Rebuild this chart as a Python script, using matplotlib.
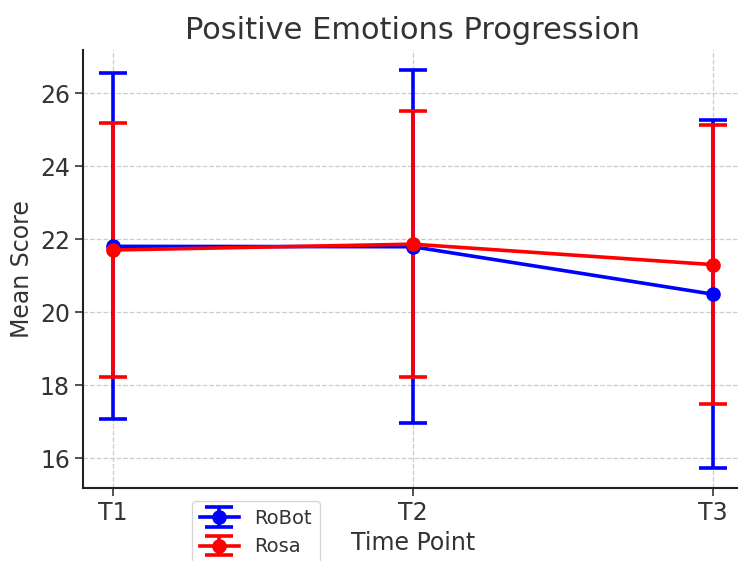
import matplotlib
matplotlib.use("Agg")
import matplotlib.pyplot as plt

# Values
time_points = ["T1", "T2", "T3"]
robot_mean = [21.80, 21.79, 20.49]
robot_err = [4.74, 4.84, 4.77]
rosa_mean = [21.70, 21.86, 21.30]
rosa_err = [3.47, 3.65, 3.82]

plt.rcParams["text.color"] = "#333333"
plt.rcParams["axes.labelcolor"] = "#333333"
plt.rcParams["xtick.color"] = "#333333"
plt.rcParams["ytick.color"] = "#333333"

fig = plt.figure(figsize=(7.38, 5.61), dpi=100)
ax = fig.add_axes([0.1125, 0.130, 0.894, 0.781])

x = list(range(len(time_points)))
ax.errorbar(x, robot_mean, yerr=robot_err, color="blue", marker="o",
            markersize=9.5, linewidth=2.6, elinewidth=2.6, capsize=10,
            capthick=2.6, label="RoBot")
ax.errorbar(x, rosa_mean, yerr=rosa_err, color="red", marker="o",
            markersize=9.5, linewidth=2.6, elinewidth=2.6, capsize=10,
            capthick=2.6, label="Rosa")

ax.set_xticks(x)
ax.set_xticklabels(time_points)
ax.set_xlim(-0.1, 2.1)
ax.set_ylim(15.18, 27.18)
ax.set_yticks([16, 18, 20, 22, 24, 26])
ax.tick_params(labelsize=17, length=6, width=1.2)

ax.set_title("Positive Emotions Progression", fontsize=22, pad=8)
ax.set_xlabel("Time Point", fontsize=17)
ax.set_ylabel("Mean Score", fontsize=17)

ax.grid(True, linestyle="--", color="#cccccc", linewidth=0.9)
ax.set_axisbelow(True)
for side in ("top", "right"):
    ax.spines[side].set_visible(False)
for side in ("left", "bottom"):
    ax.spines[side].set_linewidth(1.5)
    ax.spines[side].set_color("#222222")

fig.legend(loc="upper left", bbox_to_anchor=(0.26, 0.107),
           bbox_transform=fig.transFigure, borderaxespad=0, fontsize=14,
           framealpha=0.8, edgecolor="#cccccc")

fig.savefig("out.png", dpi=100)
